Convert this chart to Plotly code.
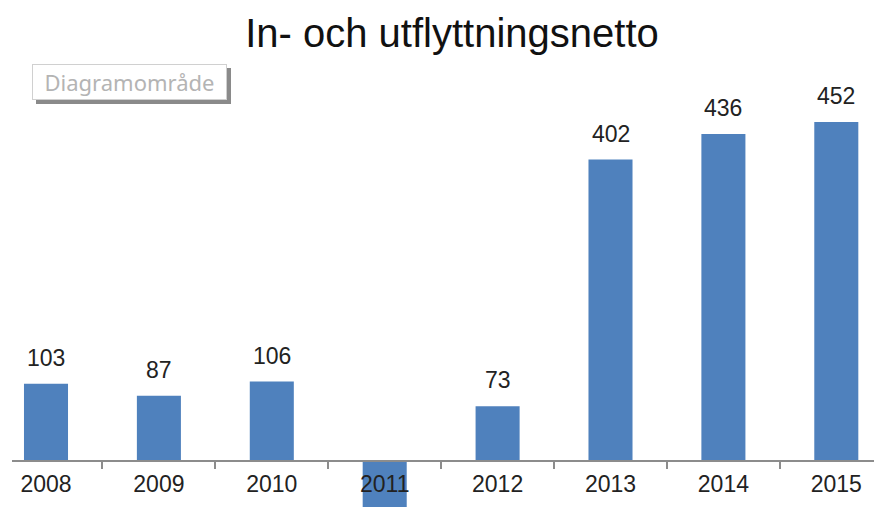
import plotly.graph_objects as go

years = ["2008", "2009", "2010", "2011", "2012", "2013", "2014", "2015"]
netto = [103, 87, 106, -70, 73, 402, 436, 452]
title_text = "In- och utflyttningsnetto"
tooltip_text = "Diagramområde"

W, H = 874, 507
bar_color = "#4F81BD"
font_family = "Liberation Sans, Arial, sans-serif"
left = 12
PW = W - left  # plot area width

fig = go.Figure()
fig.add_trace(go.Bar(
    x=years, y=netto, marker=dict(color=bar_color, line=dict(width=0)),
    cliponaxis=True, showlegend=False, hoverinfo="skip",
))

annotations = []
for i, v in enumerate(netto):
    if v >= 0:
        annotations.append(dict(x=i, y=v, xref="x", yref="y", text=str(v),
                                showarrow=False, yanchor="bottom", yshift=11,
                                font=dict(family=font_family, size=23, color="#222222")))

# tooltip-like box "Diagramområde" with shadow
box_x, box_y = (32 - left) / PW, 1 - 64 / H
annotations.append(dict(x=box_x + 4 / PW, y=box_y - 4 / H, xref="paper", yref="paper",
                        xanchor="left", yanchor="top", text=" ", showarrow=False,
                        width=193, height=34,
                        font=dict(family="Noto Sans", size=22, color="rgba(0,0,0,0)"),
                        bgcolor="#8a8a8a", borderpad=0, borderwidth=1, bordercolor="#8a8a8a"))
annotations.append(dict(x=box_x, y=box_y, xref="paper", yref="paper",
                        xanchor="left", yanchor="top", text=tooltip_text, showarrow=False,
                        width=193, height=34, align="center", valign="middle",
                        font=dict(family="Noto Sans", size=22, color="#b4b4b4"),
                        bgcolor="#ffffff", borderpad=0, borderwidth=1, bordercolor="#d0d0d0"))

px_per_unit = 0.75
axis_px = 461
ymin = -(H - axis_px) / px_per_unit
ymax = axis_px / px_per_unit

cat_w = 112.9
xmin = -(46 - left) / cat_w
xmax = xmin + PW / cat_w

fig.update_layout(
    width=W, height=H,
    margin=dict(l=left, r=0, t=0, b=0),
    paper_bgcolor="white", plot_bgcolor="white",
    bargap=0.61,
    title=dict(text=title_text, x=(452 - left) / PW, xanchor="center", y=1 - 33 / H, yanchor="middle",
               xref="paper", yref="container",
               font=dict(family=font_family, size=40, color="#111111")),
    xaxis=dict(type="category", range=[xmin, xmax], anchor="free", position=(H - axis_px) / H,
               showline=True, linecolor="#8c8c8c", linewidth=1.5,
               ticks="outside", tickson="boundaries", ticklen=7, tickcolor="#8c8c8c", tickwidth=1.5,
               ticklabelstandoff=3,
               tickfont=dict(family=font_family, size=23, color="#222222"),
               showgrid=False, zeroline=False),
    yaxis=dict(range=[ymin, ymax], visible=True, showticklabels=False, showline=False,
               ticks="", showgrid=False, zeroline=False),
    annotations=annotations,
)

fig.write_html("out.html", config={"displayModeBar": False},
               post_script="document.body.style.margin='0px';document.body.style.overflow='hidden';")
